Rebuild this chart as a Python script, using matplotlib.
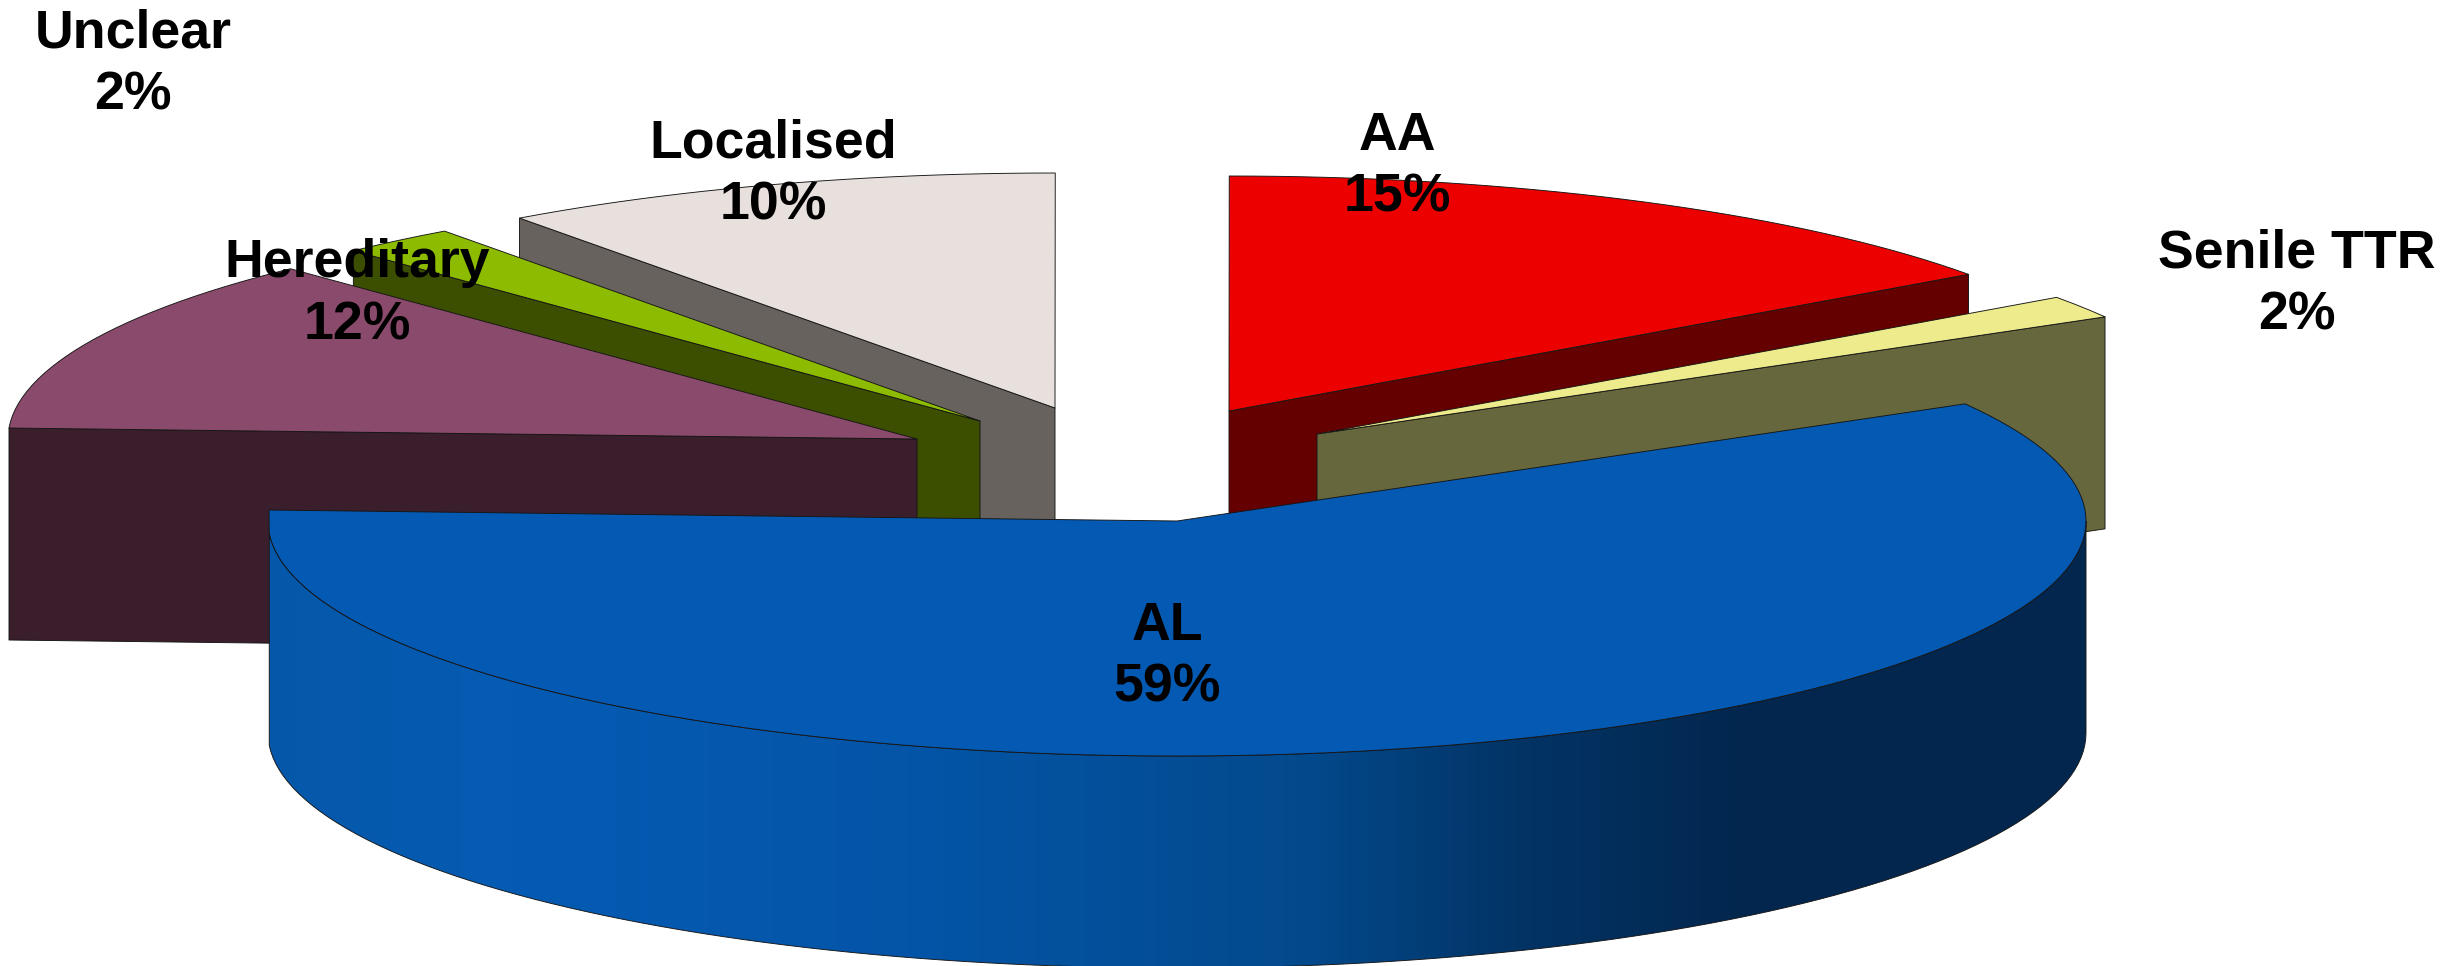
import numpy as np
import matplotlib
matplotlib.use("Agg")
import matplotlib.pyplot as plt
from matplotlib.colors import LinearSegmentedColormap
from matplotlib.patches import Polygon

# ---- data (clockwise from the right-hand edge of AL) ----
categories = ["AL", "Hereditary", "Unclear", "Localised", "AA", "Senile TTR"]
values = [59.05, 12.15, 2.08, 10.03, 15.12, 1.57]

# ---- styles and layout ----
top_colors = ["#0459B3", "#8A4A6B", "#8CBB00", "#E7E0DD", "#EC0000", "#EDEB8C"]
cut_colors = ["#02264F", "#3A1E2C", "#3C4F00", "#67625E", "#640000", "#66673C"]
apex_x = [1177, 917, 980, 1055, 1229, 1317]
apex_y = [521, 439, 421, 408, 411, 434]
label_x = [1167, 357, 133, 773.5, 1397, 2296.5]
label_y = [702, 339, 109, 219, 212, 329.5]
draw_order = [3, 4, 5, 2, 1, 0]
wall_stops = [(0.0, "#0558A9"), (0.13, "#055BB3"), (0.35, "#0455A8"),
              (0.568, "#034A8D"), (0.687, "#023466"), (0.82, "#02264D"), (1.0, "#02274F")]
START_ANGLE = 29.9
WALL_START = 183.0
RX, RY, DEPTH = 909, 235, 212
STEP = 1.5
EDGE = dict(edgecolor="#151515", linewidth=0.65, joinstyle="round")

plt.rcParams["font.family"] = ["Liberation Sans", "DejaVu Sans"]
fig = plt.figure(figsize=(24.58, 9.66), dpi=100, facecolor="white")
ax = fig.add_axes([0, 0, 1, 1])
ax.set_xlim(0, 2458)
ax.set_ylim(966, 0)
ax.axis("off")


def arc_angles(t0, t1):
    n = max(2, int(abs(t1 - t0) / STEP) + 1)
    return np.linspace(t0, t1, n)


def rim(cx, cy, t):
    t = np.radians(np.atleast_1d(t))
    return np.column_stack([cx + RX * np.cos(t), cy - RY * np.sin(t)])


def cut_face(cx, cy, t, color, z):
    p = rim(cx, cy, t)[0]
    pts = [(cx, cy), p, (p[0], p[1] + DEPTH), (cx, cy + DEPTH)]
    ax.add_patch(Polygon(pts, closed=True, facecolor=color, zorder=z, **EDGE))


# clockwise angular spans from the values
sweeps = [v / sum(values) * 360 for v in values]
hi = [START_ANGLE + 360 - sum(sweeps[:i]) for i in range(len(values))]
lo = [h - s for h, s in zip(hi, sweeps)]

z = 1
for i in draw_order:
    cx, cy = apex_x[i], apex_y[i]
    t_lo, t_hi = lo[i], hi[i]
    if np.cos(np.radians(t_lo)) > 0.01 and i != 0:
        cut_face(cx, cy, t_lo, cut_colors[i], z)
    if np.cos(np.radians(t_hi)) < -0.01 and i != 0:
        cut_face(cx, cy, t_hi, cut_colors[i], z)
    z += 1
    if i == 0:
        # the rim leaves its left end in one straight facet
        angles = np.concatenate([arc_angles(t_hi, WALL_START), [t_lo]])
        # front wall of the large slice, shaded left to right
        front = arc_angles(360, WALL_START)
        upper = rim(cx, cy, front)
        lower = upper + np.array([0, DEPTH])
        wall = np.vstack([upper, lower[::-1]])
        cmap = LinearSegmentedColormap.from_list("wall", wall_stops)
        im = ax.imshow(np.linspace(0, 1, 512)[None, :], cmap=cmap, aspect="auto",
                       extent=(cx - RX, cx + RX, 966 + DEPTH, 0), zorder=z,
                       interpolation="bilinear")
        patch = Polygon(wall, closed=True, facecolor="none", zorder=z + 0.5, **EDGE)
        ax.add_patch(patch)
        im.set_clip_path(patch)
        z += 1
    else:
        angles = arc_angles(t_hi, t_lo)
    top = np.vstack([[cx, cy], rim(cx, cy, angles)])
    ax.add_patch(Polygon(top, closed=True, facecolor=top_colors[i], zorder=z, **EDGE))
    z += 1

ax.set_xlim(0, 2458)
ax.set_ylim(966, 0)

for c, v, x, y in zip(categories, values, label_x, label_y):
    ax.text(x, y, f"{c}\n{v:.0f}%", ha="center", va="baseline", multialignment="center",
            fontsize=38.6, fontweight="bold", color="black", linespacing=1.30, zorder=100)

fig.savefig("out.png", dpi=100, facecolor="white")
